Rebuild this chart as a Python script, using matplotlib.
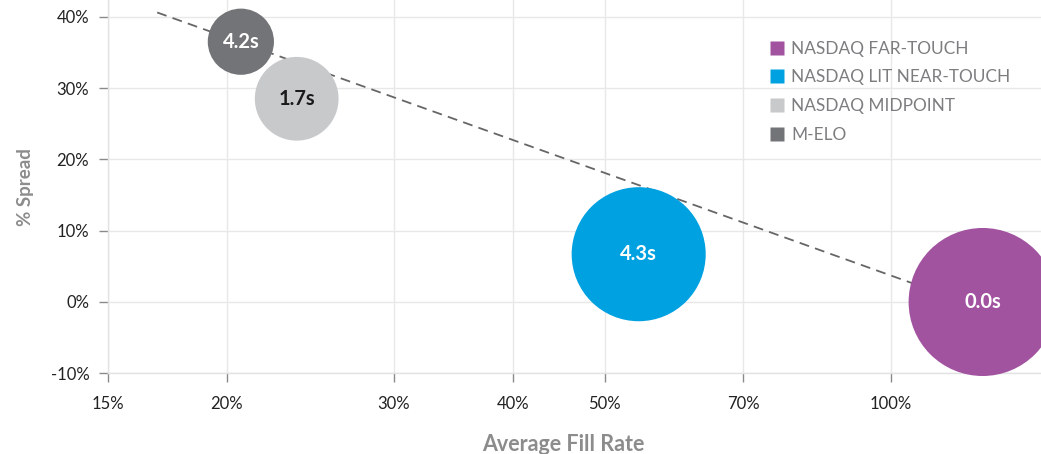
import numpy as np
import matplotlib.pyplot as plt
from matplotlib.lines import Line2D
from matplotlib.ticker import FixedLocator, NullLocator

plt.rcParams['font.family'] = ['Lato', 'DejaVu Sans']

# datos
venues = ["NASDAQ FAR-TOUCH", "NASDAQ LIT NEAR-TOUCH", "NASDAQ MIDPOINT", "M-ELO"]
fill_rate = [125.0, 54.3, 23.7, 20.7]      # %
spread = [0.0, 6.7, 28.5, 36.5]            # %
volumen = [100, 82, 32, 20]                # tamaño relativo de la burbuja
etiquetas = ["0.0s", "4.3s", "1.7s", "4.2s"]
colores = ["#a153a0", "#00a1e1", "#c8c9cb", "#737478"]
color_texto = ["white", "white", "#1a1a1a", "white"]

# linea de tendencia (punteada)
tend_x = [16.9, 125.0]
tend_y = [40.6, -0.9]

xticks = [15, 20, 30, 40, 50, 70, 100]
yticks = [-10, 0, 10, 20, 30, 40]

fig = plt.figure(figsize=(10.41, 4.54), dpi=100)
ax = fig.add_axes([108 / 1041, 1 - 373.3 / 454, 1 - 108 / 1041, 373.3 / 454])

ax.set_xscale("log")
ax.set_xlim(15, 144)
ax.set_ylim(-10, 42.35)

ax.plot(tend_x, tend_y, color="#666666", linestyle=(0, (5.5, 3.5)), linewidth=1.3, zorder=2)

escala = 113.6
ax.scatter(fill_rate, spread, s=np.array(volumen) * escala, c=colores,
           edgecolors="none", zorder=3, clip_on=False)

for x, y, t, c in zip(fill_rate, spread, etiquetas, color_texto):
    ax.text(x, y, t, ha="center", va="center", color=c, fontsize=14.5,
            fontweight="bold", zorder=4)

ax.xaxis.set_major_locator(FixedLocator(xticks))
ax.xaxis.set_minor_locator(NullLocator())
ax.set_xticklabels([f"{v}%" for v in xticks])
ax.set_yticks(yticks)
ax.set_yticklabels([f"{v}%" for v in yticks])

ax.grid(True, color="#e8e8e8", linewidth=1.0, zorder=0)
ax.set_axisbelow(True)

for lado in ["top", "right"]:
    ax.spines[lado].set_visible(False)
ax.spines["left"].set_color("#e2e2e2")
ax.spines["bottom"].set_color("#e2e2e2")
ax.spines["left"].set_linewidth(1.0)
ax.spines["bottom"].set_linewidth(1.0)

ax.tick_params(axis="both", colors="#8a8a8a", labelcolor="#222222", labelsize=12,
               length=6.5, width=1.0)
ax.tick_params(axis="x", pad=10)
ax.tick_params(axis="y", pad=7)

ax.set_xlabel("Average Fill Rate", fontsize=15.5, fontweight="bold", color="#8c8c8c")
ax.set_ylabel("% Spread", fontsize=13.5, fontweight="bold", color="#8c8c8c", labelpad=12)
ax.xaxis.set_label_coords(0.488, -0.163)

handles = [Line2D([], [], marker="s", linestyle="none", markersize=9.5,
                  markerfacecolor=c, markeredgecolor="none") for c in colores]
leg = ax.legend(handles, venues, loc="upper left", bbox_to_anchor=(761 / 1041, 1 - 32 / 454),
                bbox_transform=fig.transFigure, frameon=False, fontsize=12.4,
                handlelength=0.8, handletextpad=0.45, labelspacing=0.74, borderpad=0)
for t in leg.get_texts():
    t.set_color("#7d7d80")

plt.savefig("out.png", dpi=100)
